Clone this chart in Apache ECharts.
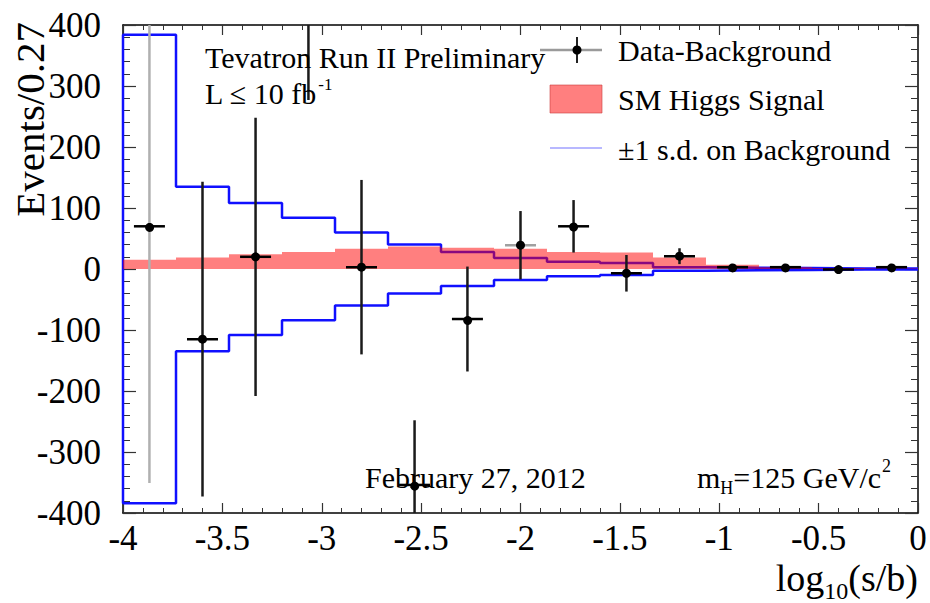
<!DOCTYPE html>
<html>
<head>
<meta charset="utf-8">
<script src="https://cdn.jsdelivr.net/npm/echarts@6/dist/echarts.min.js"></script>
<style>
html,body{margin:0;padding:0;background:#fff;}
#chart{width:930px;height:603px;}
</style>
</head>
<body>
<div id="chart"></div>
<script>
// ---- data ----
const binEdges = [-4, -3.7333, -3.4667, -3.2, -2.9333, -2.6667, -2.4, -2.1333, -1.8667, -1.6, -1.3333, -1.0667, -0.8, -0.5333, -0.2667, 0];
const binCenters = [-3.867, -3.6, -3.333, -3.067, -2.8, -2.533, -2.267, -2.0, -1.733, -1.467, -1.2, -0.933, -0.667, -0.4, -0.133];
const signal = [15, 19, 24, 28, 33, 37, 35, 33, 28, 27, 19, 7, 3, 1.5, 1];
const bkgErr = [384, 135, 108, 84, 60, 40, 28, 18, 12, 10, 3, 2, 1.5, 1, 1];
const dataMinusBkg = [70, -115, 20, 520, 3, -354, -82, 39, 70, -7, 21, 3, 3, -1, 3];
const dataErr = [421, 258, 228, 243, 143, 106, 86, 56, 43, 30, 13, 3, 3, 3, 3];
const dataXErr = 0.078;
const xTicks = ['-4', '-3.5', '-3', '-2.5', '-2', '-1.5', '-1', '-0.5', '0'];
const yTicks = ['-400', '-300', '-200', '-100', '0', '100', '200', '300', '400'];

// ---- helpers ----
const FONT = '"Liberation Serif", "Times New Roman", serif';
const mctx = document.createElement('canvas').getContext('2d');
function tw(text, size) { mctx.font = size + 'px ' + FONT; return mctx.measureText(text).width; }

function txt(x, y, text, size, extra) {
  return {
    type: 'text', x: x, y: y, z: 100,
    style: Object.assign({ text: text, font: size + 'px ' + FONT, fill: '#000', textAlign: 'left', textVerticalAlign: 'middle' }, extra || {})
  };
}

const signalData = signal.map((v, i) => [binEdges[i], binEdges[i + 1], v]);
const upperLine = [[binEdges[0], 0]].concat(bkgErr.map((v, i) => [binEdges[i], v])).concat([[binEdges[binEdges.length - 1], bkgErr[bkgErr.length - 1]]]);
const lowerLine = [[binEdges[0], 0]].concat(bkgErr.map((v, i) => [binEdges[i], -v])).concat([[binEdges[binEdges.length - 1], -bkgErr[bkgErr.length - 1]]]);
const pointData = dataMinusBkg.map((v, i) => [binCenters[i], v, dataErr[i]]);

// ---- annotation text layout ----
const graphics = [];
graphics.push(txt(205, 57, 'Tevatron Run II Preliminary', 30));
const lw = tw('L \u2264 10 fb', 30);
graphics.push(txt(205, 93, 'L \u2264 10 fb', 30));
graphics.push(txt(205 + lw + 1, 84, '-1', 17));
graphics.push(txt(365, 477, 'February 27, 2012', 30));
let mx = 697;
graphics.push(txt(mx, 477, 'm', 30)); mx += tw('m', 30);
graphics.push(txt(mx, 488, 'H', 18)); mx += tw('H', 18);
graphics.push(txt(mx, 477, '=125 GeV/c', 30)); mx += tw('=125 GeV/c', 30);
graphics.push(txt(mx + 1, 466, '2', 18));
{
  const w1 = tw('log', 38), w2 = tw('10', 24), w3 = tw('(s/b)', 38);
  let x0 = 918 - (w1 + w2 + w3);
  graphics.push(txt(x0, 578, 'log', 38)); x0 += w1;
  graphics.push(txt(x0, 591, '10', 24)); x0 += w2;
  graphics.push(txt(x0, 578, '(s/b)', 38));
}
graphics.push({
  type: 'text', x: 30, y: 22, rotation: Math.PI / 2, z: 100,
  style: { text: 'Events/0.27', font: '41px ' + FONT, fill: '#000', textAlign: 'right', textVerticalAlign: 'middle' }
});
// legend
graphics.push({ type: 'line', z: 100, shape: { x1: 540, y1: 50, x2: 602, y2: 50 }, style: { stroke: '#9a9a9a', lineWidth: 2.5 } });
graphics.push({ type: 'line', z: 100, shape: { x1: 577, y1: 37, x2: 577, y2: 63 }, style: { stroke: '#222', lineWidth: 2 } });
graphics.push({ type: 'circle', z: 101, shape: { cx: 577, cy: 50, r: 4.5 }, style: { fill: '#000' } });
graphics.push(txt(618, 50, 'Data-Background', 30));
graphics.push({ type: 'rect', z: 100, shape: { x: 550, y: 85, width: 52, height: 28 }, style: { fill: 'rgba(255,0,0,0.5)', stroke: 'rgba(200,60,60,0.6)', lineWidth: 1 } });
graphics.push(txt(618, 99, 'SM Higgs Signal', 30));
graphics.push({ type: 'line', z: 100, shape: { x1: 550, y1: 148, x2: 602, y2: 148 }, style: { stroke: '#a0a0ff', lineWidth: 1.5 } });
graphics.push(txt(618, 149, '\u00b11 s.d. on Background', 30));

// ---- axes ----
function xAxisCfg(pos, showLabels) {
  return {
    type: 'value', min: -4, max: 0, interval: 0.5, position: pos,
    axisLine: { show: true, onZero: false, lineStyle: { color: '#000', width: 1.5 } },
    axisTick: { show: true, inside: true, length: 10, lineStyle: { color: '#333', width: 1.2 } },
    minorTick: { show: true, splitNumber: 5, length: 5, lineStyle: { color: '#333', width: 1 } },
    splitLine: { show: false }, minorSplitLine: { show: false },
    axisLabel: {
      show: showLabels, fontFamily: FONT, fontSize: 35, color: '#000', margin: 8,
      formatter: v => xTicks[Math.round((v + 4) / 0.5)]
    }
  };
}
function yAxisCfg(pos, showLabels) {
  return {
    type: 'value', min: -400, max: 400, interval: 100, position: pos,
    axisLine: { show: true, onZero: false, lineStyle: { color: '#000', width: 1.5 } },
    axisTick: { show: true, inside: true, length: 13, lineStyle: { color: '#333', width: 1.2 } },
    minorTick: { show: true, splitNumber: 5, length: 7, lineStyle: { color: '#333', width: 1 } },
    splitLine: { show: false }, minorSplitLine: { show: false },
    axisLabel: {
      show: showLabels, fontFamily: FONT, fontSize: 35, color: '#000', margin: 22,
      formatter: v => yTicks[Math.round((v + 400) / 100)]
    }
  };
}

const chart = echarts.init(document.getElementById('chart'), null, { renderer: 'svg' });
chart.setOption({
  animation: false,
  backgroundColor: '#fff',
  grid: { left: 123, right: 12, top: 25, bottom: 90, containLabel: false },
  xAxis: [xAxisCfg('bottom', true), xAxisCfg('top', false)],
  yAxis: [yAxisCfg('left', true), yAxisCfg('right', false)],
  graphic: graphics,
  series: [
    {
      name: '\u00b11 s.d. on Background (upper)', type: 'line', step: 'end', data: upperLine,
      symbol: 'none', z: 2, lineStyle: { color: '#1010ff', width: 2.5 }, clip: true
    },
    {
      name: '\u00b11 s.d. on Background (lower)', type: 'line', step: 'end', data: lowerLine,
      symbol: 'none', z: 2, lineStyle: { color: '#1010ff', width: 2.5 }, clip: true
    },
    {
      name: 'SM Higgs Signal', type: 'custom', z: 3, clip: true, data: signalData,
      renderItem: function (params, api) {
        const p0 = api.coord([api.value(0), api.value(2)]);
        const p1 = api.coord([api.value(1), 0]);
        return { type: 'rect', shape: { x: p0[0], y: p0[1], width: p1[0] - p0[0], height: p1[1] - p0[1] }, style: { fill: 'rgba(255,0,0,0.5)' } };
      }
    },
    {
      name: 'Data-Background', type: 'custom', z: 4, clip: true, data: pointData,
      renderItem: function (params, api) {
        const x = api.value(0), y = api.value(1), e = api.value(2), i = params.dataIndex;
        const c = api.coord([x, y]);
        const t = api.coord([x, y + e]);
        const b = api.coord([x, y - e]);
        const l = api.coord([x - dataXErr, y]);
        const r = api.coord([x + dataXErr, y]);
        const vCol = i === 0 ? '#b0b0b0' : '#1a1a1a';
        const hCol = i === 7 ? '#a0a0a0' : '#000';
        return {
          type: 'group', children: [
            { type: 'line', shape: { x1: t[0], y1: t[1], x2: b[0], y2: b[1] }, style: { stroke: vCol, lineWidth: 2.5 } },
            { type: 'line', shape: { x1: l[0], y1: l[1], x2: r[0], y2: r[1] }, style: { stroke: hCol, lineWidth: 2.5 } },
            { type: 'circle', shape: { cx: c[0], cy: c[1], r: 4.5 }, style: { fill: '#000' } }
          ]
        };
      }
    }
  ]
});
</script>
</body>
</html>
